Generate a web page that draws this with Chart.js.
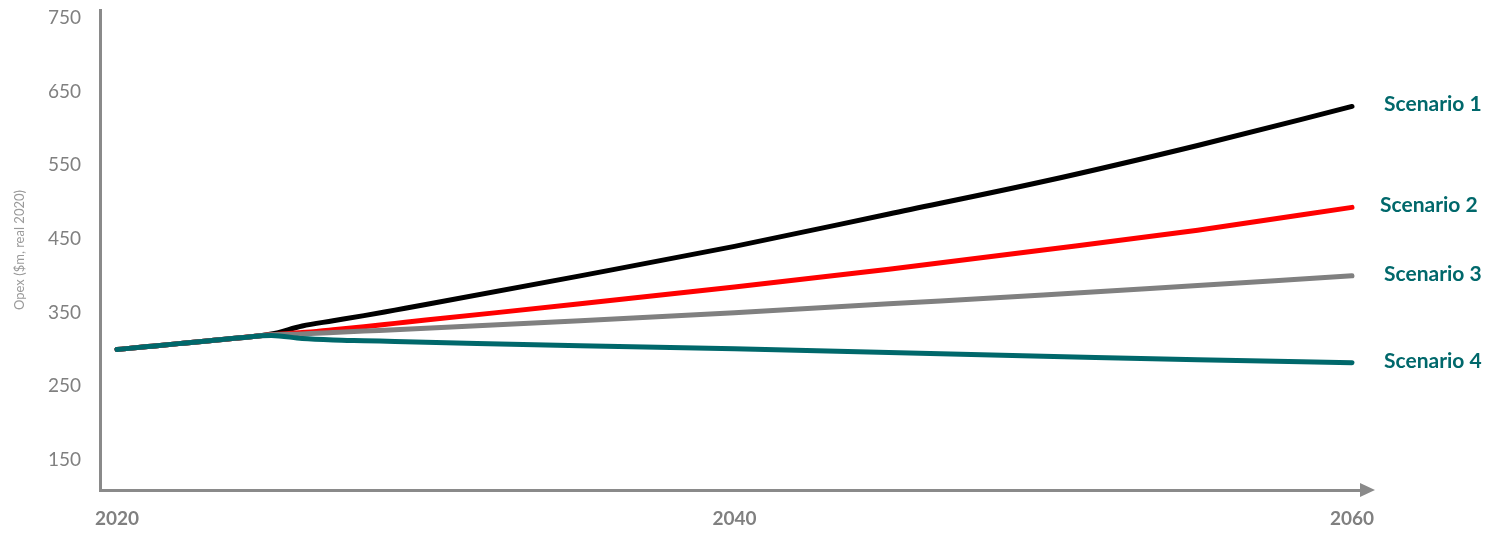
<!DOCTYPE html>
<html>
<head>
<meta charset="utf-8">
<script src="https://cdn.jsdelivr.net/npm/chart.js@4.4.1/dist/chart.umd.min.js"></script>
<style>
  html, body { margin: 0; padding: 0; background: #ffffff; }
  #wrap { width: 1492px; height: 533px; position: relative; }
</style>
</head>
<body>
<div id="wrap"><canvas id="c" width="1492" height="533"></canvas></div>
<script>
// ---- data ----
const years = [2020, 2021, 2022, 2023, 2024, 2025, 2026, 2027, 2028, 2029, 2030, 2035, 2040, 2045, 2050, 2055, 2060];
const scenarioNames = ["Scenario 1", "Scenario 2", "Scenario 3", "Scenario 4"];
const scenario1 = [300, 304, 308, 312, 316, 321, 332, 339, 346, 353.5, 361, 400, 440, 484, 528, 577, 630];
const scenario2 = [300, 304, 308, 312, 316, 320, 323, 327, 331, 335.5, 340, 362, 385, 409, 435, 462, 493];
const scenario3 = [300, 304, 308, 312, 316, 320, 321, 323, 325, 327, 329, 339, 350, 362, 374, 387, 400];
const scenario4 = [300, 304, 308, 312, 316, 319, 315, 313, 312, 311, 310, 305, 301, 296, 291, 286, 282];
const xTickValues = [2020, 2040, 2060];
const yTickValues = [150, 250, 350, 450, 550, 650, 750];
const yAxisTitle = "Opex ($m, real 2020)";

const colors = ["#000000", "#ff0000", "#808080", "#00686b"];
const labelColor = "#00686b";
const axisColor = "#8a8a8a";

const series = [scenario1, scenario2, scenario3, scenario4];
const datasets = series.map((vals, i) => ({
  label: scenarioNames[i],
  data: years.map((yr, j) => ({ x: yr, y: vals[j] })),
  borderColor: colors[i],
  backgroundColor: colors[i],
  borderWidth: 5,
  borderCapStyle: "round",
  borderJoinStyle: "round",
  pointRadius: 0,
  cubicInterpolationMode: "monotone",
  fill: false,
  order: 4 - i
}));

const endLabels = {
  id: "endLabels",
  afterDatasetsDraw(chart) {
    const ctx = chart.ctx;
    ctx.save();
    ctx.font = "bold 21px Lato";
    ctx.fillStyle = labelColor;
    ctx.textAlign = "left";
    ctx.textBaseline = "middle";
    chart.data.datasets.forEach((ds, i) => {
      const meta = chart.getDatasetMeta(i);
      const pt = meta.data[meta.data.length - 1];
      ctx.fillText(ds.label, pt.x + (i === 1 ? 28 : 32), pt.y - 2);
    });
    ctx.restore();
  }
};

const axisArrow = {
  id: "axisArrow",
  afterDraw(chart) {
    const ctx = chart.ctx;
    const a = chart.chartArea;
    const y = a.bottom;
    ctx.save();
    ctx.fillStyle = axisColor;
    ctx.beginPath();
    ctx.moveTo(a.right - 2, y - 7);
    ctx.lineTo(a.right + 13, y);
    ctx.lineTo(a.right - 2, y + 7);
    ctx.closePath();
    ctx.fill();
    ctx.restore();
  }
};

new Chart(document.getElementById("c"), {
  type: "line",
  data: { datasets },
  options: {
    responsive: false,
    animation: false,
    layout: { padding: { left: 0, top: 10, right: 130, bottom: 0 } },
    plugins: {
      legend: { display: false },
      tooltip: { enabled: false }
    },
    scales: {
      x: {
        type: "linear",
        min: 2019.449,
        max: 2060.324,
        afterBuildTicks(scale) { scale.ticks = xTickValues.map(v => ({ value: v })); },
        afterFit(scale) { scale.height = 43; scale.paddingLeft = 0; scale.paddingRight = 0; },
        grid: { display: false, drawTicks: false },
        border: { display: true, color: axisColor, width: 3 },
        ticks: {
          padding: 17,
          color: "#808080",
          font: { family: "Lato", size: 19, weight: "bold" },
          maxRotation: 0,
          autoSkip: false,
          callback: (v) => String(v)
        }
      },
      y: {
        type: "linear",
        min: 109.3,
        max: 760.9,
        afterBuildTicks(scale) { scale.ticks = yTickValues.map(v => ({ value: v })); },
        afterFit(scale) { scale.width = 100; scale.paddingTop = 0; scale.paddingBottom = 0; },
        grid: { display: false, drawTicks: false },
        border: { display: true, color: axisColor, width: 3 },
        title: {
          display: true,
          text: yAxisTitle,
          color: "#9a9a9a",
          font: { family: "Lato", size: 13 },
          padding: { top: 12, bottom: 0 }
        },
        ticks: {
          padding: 19,
          color: "#808080",
          font: { family: "Lato", size: 19 },
          callback: (v) => String(v)
        }
      }
    }
  },
  plugins: [endLabels, axisArrow]
});
</script>
</body>
</html>
